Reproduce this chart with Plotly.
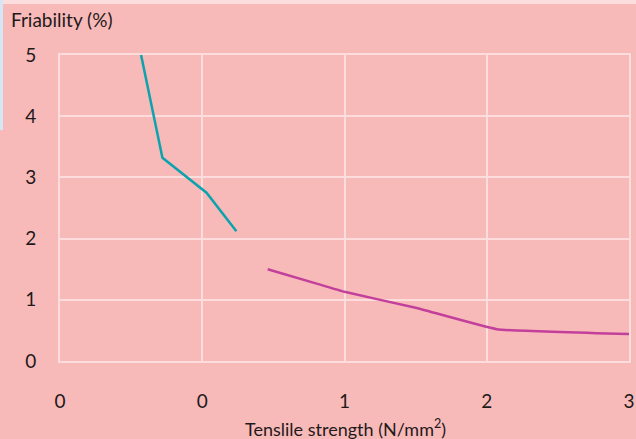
import plotly.graph_objects as go

# Data
teal_x = [-0.43, -0.28, 0.03, 0.24]
teal_y = [5.0, 3.32, 2.75, 2.12]
mag_x = [0.46, 0.81, 1.0, 1.5, 2.07, 3.0]
mag_y = [1.50, 1.26, 1.13, 0.87, 0.52, 0.44]
x_tickvals = [-1, 0, 1, 2, 3]
x_ticktext = ["0", "0", "1", "2", "3"]
y_tickvals = [0, 1, 2, 3, 4, 5]

FONT = "Lato, Liberation Sans Narrow, sans-serif"
BG = "#f8b9b9"
GRID = "#fcdcdc"

W, H = 636, 439
ML, MR, MT, MB = 60, 7, 55, 78
pw, ph = W - ML - MR, H - MT - MB

fig = go.Figure()
fig.add_trace(go.Scatter(x=teal_x, y=teal_y, mode="lines",
                         line=dict(color="#0ba3ae", width=2.5), showlegend=False))
fig.add_trace(go.Scatter(x=mag_x, y=mag_y, mode="lines", line_shape="spline",
                         line=dict(color="#c2409b", width=2.5, smoothing=0.3), showlegend=False))

def px_x(p):
    return (p - ML) / pw

def px_y(p):
    return (H - MB - p) / ph

fig.update_layout(
    width=W, height=H,
    margin=dict(l=ML, r=MR, t=MT, b=MB),
    paper_bgcolor=BG, plot_bgcolor=BG,
    font=dict(family=FONT, size=19, color="#1f1a1a"),
    xaxis=dict(range=[-1, 3], tickvals=x_tickvals, ticktext=x_ticktext,
               showgrid=True, gridcolor=GRID, gridwidth=2,
               zeroline=False, showline=True, linecolor=GRID, linewidth=2, mirror=True,
               ticks="", ticklabelstandoff=22, fixedrange=True, automargin=False),
    yaxis=dict(range=[0, 5], tickvals=y_tickvals,
               showgrid=True, gridcolor=GRID, gridwidth=2,
               zeroline=False, showline=True, linecolor=GRID, linewidth=2, mirror=True,
               ticks="", ticklabelstandoff=18, fixedrange=True, automargin=False),
    annotations=[
        dict(text="Friability (%)", xref="paper", yref="paper",
             x=px_x(9), y=px_y(20), xanchor="left", yanchor="middle",
             showarrow=False, font=dict(family=FONT, size=19, color="#1f1a1a")),
        dict(text="Tenslile strength (N/mm<sup>2</sup>)", xref="paper", yref="paper",
             x=px_x(345), y=px_y(428), xanchor="center", yanchor="middle",
             showarrow=False, font=dict(family=FONT, size=18, color="#1f1a1a")),
    ],
    shapes=[
        dict(type="rect", xref="paper", yref="paper",
             x0=px_x(0), x1=px_x(636), y0=px_y(0), y1=px_y(4),
             fillcolor="#fcdede", line_width=0, layer="below"),
        dict(type="rect", xref="paper", yref="paper",
             x0=px_x(0), x1=px_x(3), y0=px_y(0), y1=px_y(130),
             fillcolor="#d6e6f7", line_width=0, layer="above"),
    ],
)

fig.write_html("out.html", config={"displayModeBar": False},
               post_script="document.body.style.margin='0';document.body.style.padding='0';document.body.style.overflow='hidden';")
